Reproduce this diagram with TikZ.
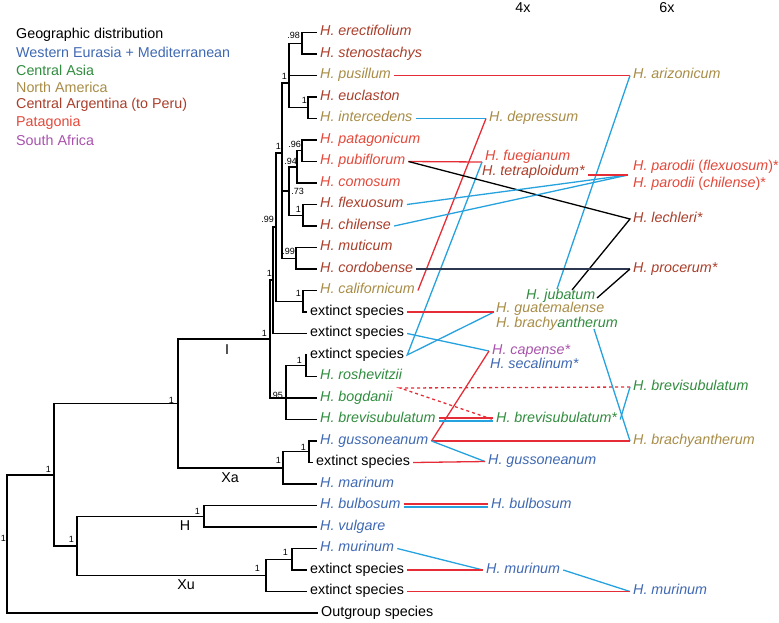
\documentclass[tikz,border=0pt]{standalone}
\usepackage{fontspec}
\setmainfont{Liberation Sans}
\usepackage{tikz}

\definecolor{weur}{RGB}{62,104,178}
\definecolor{casia}{RGB}{48,140,62}
\definecolor{namer}{RGB}{168,140,70}
\definecolor{carg}{RGB}{170,62,42}
\definecolor{patag}{RGB}{226,72,58}
\definecolor{safr}{RGB}{168,82,172}
\definecolor{redline}{RGB}{230,45,55}
\definecolor{cyanline}{RGB}{38,162,222}
\definecolor{navyline}{RGB}{45,55,80}

\newcommand{\tipfont}{\fontsize{14.3}{17}\selectfont}
\newcommand{\ppfont}{\fontsize{9}{9}\selectfont}

\begin{document}
\begin{tikzpicture}[x=1pt, y=-1pt, font=\tipfont,
  br/.style={line width=1.1pt},
  con/.style={line width=1.3pt},
  rl/.style={con, redline},
  bl/.style={con, cyanline},
  tip/.style={anchor=west, inner xsep=3pt, inner ysep=0pt, text height=10.5pt, text depth=3.9pt},
  sp/.style={tip, font=\tipfont\itshape},
  pp/.style={anchor=south east, inner sep=0pt, font=\ppfont},
  leg/.style={anchor=west, inner sep=0pt}]

  \useasboundingbox (0,0) rectangle (779,622);

  % Legend
  \node[leg] (lgeo) at (16,35) {Geographic distribution};
  \node[leg, text=weur] (lweur) at (16,52.5) {Western Eurasia + Mediterranean};
  \node[leg, text=casia] (lcasia) at (16,70) {Central Asia};
  \node[leg, text=namer] (lnamer) at (16,87.5) {North America};
  \node[leg, text=carg] (lcarg) at (16,105) {Central Argentina (to Peru)};
  \node[leg, text=patag] (lpatag) at (16,122.5) {Patagonia};
  \node[leg, text=safr] (lsafr) at (16,140) {South Africa};

  % Ploidy headers
  \node (h4x) at (523,8) {4x};
  \node (h6x) at (667,8) {6x};

  % Tips (diploids)
  \node[sp, text=carg] (erect) at (317,32.5) {H. erectifolium};
  \node[sp, text=carg] (steno) at (317,54) {H. stenostachys};
  \node[sp, text=namer] (pusil) at (317,75.5) {H. pusillum};
  \node[sp, text=carg] (eucla) at (317,97) {H. euclaston};
  \node[sp, text=namer] (inter) at (317,118.5) {H. intercedens};
  \node[sp, text=patag] (patagon) at (317,140) {H. patagonicum};
  \node[sp, text=patag] (pubif) at (317,161.5) {H. pubiflorum};
  \node[sp, text=patag] (comos) at (317,183) {H. comosum};
  \node[sp, text=carg] (flexu) at (317,204.5) {H. flexuosum};
  \node[sp, text=carg] (chile) at (317,226) {H. chilense};
  \node[sp, text=carg] (mutic) at (317,247.5) {H. muticum};
  \node[sp, text=carg] (cordo) at (317,269) {H. cordobense};
  \node[sp, text=namer] (calif) at (317,290.5) {H. californicum};
  \node[tip] (extA) at (307,312) {extinct species};
  \node[tip] (extB) at (307,333.5) {extinct species};
  \node[tip] (extC) at (307,355) {extinct species};
  \node[sp, text=casia] (roshe) at (317,376.5) {H. roshevitzii};
  \node[sp, text=casia] (bogda) at (317,398) {H. bogdanii};
  \node[sp, text=casia] (brevi) at (317,419.5) {H. brevisubulatum};
  \node[sp, text=weur] (gusso) at (317,441) {H. gussoneanum};
  \node[tip] (extD) at (313,462.5) {extinct species};
  \node[sp, text=weur] (marin) at (317,484) {H. marinum};
  \node[sp, text=weur] (bulbo) at (317,505.5) {H. bulbosum};
  \node[sp, text=weur] (vulga) at (317,527) {H. vulgare};
  \node[sp, text=weur] (murin) at (317,548.5) {H. murinum};
  \node[tip] (extE) at (307,570) {extinct species};
  \node[tip] (extF) at (307,591.5) {extinct species};
  \node[tip] (outgr) at (318,613) {Outgroup species};

  % Internal nodes
  \coordinate (nes) at (302,43.25);
  \coordinate (nei) at (308,107.75);
  \coordinate (ntop) at (289,83);
  \coordinate (npp) at (302,150.75);
  \coordinate (nppc) at (297,167);
  \coordinate (nfc) at (303,215.25);
  \coordinate (n73) at (289,191);
  \coordinate (nmc) at (296,258.25);
  \coordinate (nA) at (282,153);
  \coordinate (ncal) at (303,301.25);
  \coordinate (nB) at (276,227);
  \coordinate (nC) at (273,280);
  \coordinate (nrex) at (306,365.75);
  \coordinate (n95) at (286,398);
  \coordinate (nD) at (270,339);
  \coordinate (ngx) at (309,451.75);
  \coordinate (nXa) at (283,468);
  \coordinate (nIXa) at (178,403.5);
  \coordinate (nH) at (204,516.25);
  \coordinate (nmx) at (292,559.25);
  \coordinate (nXu) at (266,575.4);
  \coordinate (nHXu) at (77,546);
  \coordinate (nHord) at (54,475);
  \coordinate (nroot) at (7,544);

  % Branches
  \draw[br] (nes) |- (erect.west) (nes) |- (steno.west);
  \draw[br] (nei) |- (eucla.west) (nei) |- (inter.west);
  \draw[br] (ntop) |- (nes) (ntop) |- (pusil.west) (ntop) |- (nei);
  \draw[br] (npp) |- (patagon.west) (npp) |- (pubif.west);
  \draw[br] (nppc) |- (npp) (nppc) |- (comos.west);
  \draw[br] (nfc) |- (flexu.west) (nfc) |- (chile.west);
  \draw[br] (n73) |- (nppc) (n73) |- (nfc);
  \draw[br] (nmc) |- (mutic.west) (nmc) |- (cordo.west);
  \draw[br] (nA) |- (ntop) (nA) |- (n73) (nA) |- (nmc);
  \draw[br] (ncal) |- (calif.west) (ncal) |- (extA.west);
  \draw[br] (nB) |- (nA) (nB) |- (ncal);
  \draw[br] (nC) |- (nB) (nC) |- (extB.west);
  \draw[br] (nrex) |- (extC.west) (nrex) |- (roshe.west);
  \draw[br] (n95) |- (nrex) (n95) |- (bogda.west) (n95) |- (brevi.west);
  \draw[br] (nD) |- (nC) (nD) |- (n95);
  \draw[br] (ngx) |- (gusso.west) (ngx) |- (extD.west);
  \draw[br] (nXa) |- (ngx) (nXa) |- (marin.west);
  \draw[br] (nIXa) |- (nD) (nIXa) |- (nXa);
  \draw[br] (nH) |- (bulbo.west) (nH) |- (vulga.west);
  \draw[br] (nmx) |- (murin.west) (nmx) |- (extE.west);
  \draw[br] (nXu) |- (nmx) (nXu) |- (extF.west);
  \draw[br] (nHXu) |- (nH) (nHXu) |- (nXu);
  \draw[br] (nHord) |- (nIXa) (nHord) |- (nHXu);
  \draw[br] (nroot) |- (nHord) (nroot) |- (outgr.west);

  % Posterior probabilities
  \node[pp] (p1) at (300,39) {.98};
  \node[pp] (p2) at (287,80) {1};
  \node[pp] (p3) at (307,104) {1};
  \node[pp] (p4) at (281,150) {1};
  \node[pp] (p5) at (301,148) {.96};
  \node[pp] (p6) at (297,165) {.94};
  \node[pp] (p7) at (304,195) {.73};
  \node[pp] (p8) at (301,213) {1};
  \node[pp] (p9) at (274,223) {.99};
  \node[pp] (p10) at (295,255) {.99};
  \node[pp] (p11) at (272,277) {1};
  \node[pp] (p12) at (301,297) {1};
  \node[pp] (p13) at (267,337) {1};
  \node[pp] (p14) at (302,364) {1};
  \node[pp] (p15) at (283,399) {.95};
  \node[pp] (p16) at (306,451) {1};
  \node[pp] (p17) at (281,464) {1};
  \node[pp] (p18) at (174,404) {1};
  \node[pp] (p19) at (51,473) {1};
  \node[pp] (p20) at (6,542) {1};
  \node[pp] (p21) at (74,543) {1};
  \node[pp] (p22) at (200,515) {1};
  \node[pp] (p23) at (260,572) {1};
  \node[pp] (p24) at (288,556) {1};

  % Clade names
  \node (cI) at (227,350) {I};
  \node (cXa) at (230,478) {Xa};
  \node (cH) at (185,526) {H};
  \node (cXu) at (186,585) {Xu};

  % Tetraploids
  \node[sp, text=namer] (depr) at (486,118.5) {H. depressum};
  \node[sp, text=patag] (fueg) at (482,157.5) {H. fuegianum};
  \node[sp, text=carg] (tetra) at (479,172) {H. tetraploidum*};
  \coordinate (fuetet) at (482,162);
  \node[sp, text=casia] (jubat) at (523,296) {H. jubatum};
  \coordinate (jubA) at (557,289);
  \coordinate (jubB) at (572,290);
  \coordinate (jubC) at (597,298);
  \node[sp, text=namer] (guate) at (493,309) {H. guatemalense};
  \node[sp] (brach4) at (493,324) {\color{namer}H. brachy\color{casia}antherum};
  \coordinate (guabra) at (494,312);
  \coordinate (braA) at (594,329);
  \node[sp, text=safr] (capen) at (489,351.5) {H. capense*};
  \node[sp, text=weur] (secal) at (487,365) {H. secalinum*};
  \coordinate (capsec) at (489,351);
  \node[sp, text=casia] (brevi4) at (493,419.5) {H. brevisubulatum*};
  \node[sp, text=weur] (guss4) at (485,461.5) {H. gussoneanum};
  \node[sp, text=weur] (bulb4) at (488,505.5) {H. bulbosum};
  \node[sp, text=weur] (mur4) at (483,570) {H. murinum};

  % Hexaploids
  \node[sp, text=namer] (arizo) at (630,75.5) {H. arizonicum};
  \node[tip, text=patag] (parfl) at (630,167) {\itshape H. parodii \upshape(\itshape flexuosum\upshape)*};
  \node[tip, text=patag] (parch) at (630,184) {\itshape H. parodii \upshape(\itshape chilense\upshape)*};
  \coordinate (parpt) at (628,175);
  \node[sp, text=carg] (lechl) at (630,219) {H. lechleri*};
  \node[sp, text=carg] (proce) at (630,269) {H. procerum*};
  \node[sp, text=casia] (brevi6) at (630,387) {H. brevisubulatum};
  \node[sp, text=namer] (brach6) at (630,441) {H. brachyantherum};
  \node[sp, text=weur] (mur6) at (630,591.5) {H. murinum};

  % Links between diploids and polyploids
  \draw[rl] (pusil.east) -- (arizo.west);
  \draw[bl] (arizo.west) -- (jubA);
  \draw[bl] (inter.east) -- (depr.west);
  \draw[rl] (depr.west) -- (calif.east);
  \draw[rl] (pubif.east) -- (fuetet);
  \draw[bl] (fuetet) -- (extC.east) -- (guabra);
  \draw[con] (pubif.east) -- (lechl.west) -- (jubB);
  \draw[con, navyline] (cordo.east) -- (proce.west);
  \draw[con] (proce.west) -- (jubC);
  \draw[bl] (flexu.east) -- (parpt);
  \draw[bl] (chile.east) -- (parpt);
  \draw[rl] (tetra.east |- parpt) -- (parpt);
  \draw[rl] (extA.east) -- (guabra);
  \draw[bl] (braA) -- (brach6.west);
  \draw[bl] (extB.east) -- (capsec);
  \draw[rl] (capsec) -- (gusso.east);
  \coordinate (dashpt) at (400,388);
  \draw[rl, dashed] (brevi6.west) -- (dashpt) -- (brevi4.west);
  \draw[bl] (brevi4.east) -- (brevi6.west);
  \draw[rl] ([yshift=1.4pt]brevi.east) -- ([yshift=1.4pt]brevi4.west);
  \draw[bl] ([yshift=-1.4pt]brevi.east) -- ([yshift=-1.4pt]brevi4.west);
  \draw[rl] (gusso.east) -- (brach6.west);
  \draw[bl] (gusso.east) -- (guss4.west);
  \draw[rl] (extD.east) -- (guss4.west);
  \draw[rl] ([yshift=1.4pt]bulbo.east) -- ([yshift=1.4pt]bulb4.west);
  \draw[bl] ([yshift=-1.4pt]bulbo.east) -- ([yshift=-1.4pt]bulb4.west);
  \draw[bl] (murin.east) -- (mur4.west);
  \draw[rl] (extE.east) -- (mur4.west);
  \draw[bl] (mur4.east) -- (mur6.west);
  \draw[rl] (extF.east) -- (mur6.west);

\end{tikzpicture}
\end{document}
